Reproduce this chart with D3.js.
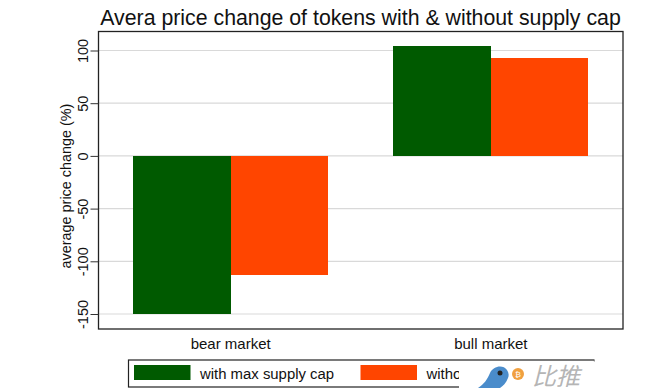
<!DOCTYPE html>
<html>
<head>
<meta charset="utf-8">
<script src="https://cdn.jsdelivr.net/npm/d3@7"></script>
<style>
  html, body { margin: 0; padding: 0; background: #fff; }
  svg { display: block; }
  text { font-family: "Liberation Sans", Arial, sans-serif; fill: #111; }
</style>
</head>
<body>
<div id="chart"></div>
<script>
const markets = ["bear market", "bull market"];
const seriesNames = ["with max supply cap", "without max supply cap"];
// second label is cut by the watermark in the original
const legendLabels = ["with max supply cap", "witho"];
const withCap = [-150, 104];
const withoutCap = [-113, 93];
const yTicks = [100, 50, 0, -50, -100, -150];

const colors = ["#005a00", "#ff4500"];

const margin = { top: 31.5, right: 44, bottom: 59, left: 98.5 };
const width = 667 - margin.left - margin.right;
const height = 388 - margin.top - margin.bottom;

const root = d3.select("#chart").append("svg")
    .attr("width", 667)
    .attr("height", 388);

const svg = root.append("g")
    .attr("transform", `translate(${margin.left},${margin.top})`);

// scales
const x = d3.scaleBand()
    .domain(markets)
    .range([0, width])
    .paddingInner(0.25)
    .paddingOuter(0.133);

const xSeries = d3.scaleBand()
    .domain(seriesNames)
    .range([0, x.bandwidth()]);

const y = d3.scaleLinear()
    .domain([-150, 100])
    .range([282.5, 19]);

// grid
svg.append("g")
    .selectAll("line")
    .data(yTicks)
    .enter()
    .append("line")
    .attr("x1", 0)
    .attr("x2", width)
    .attr("y1", d => y(d))
    .attr("y2", d => y(d))
    .style("stroke", "#d9d9d9")
    .style("stroke-width", 1.2);

// bars
const series = [withCap, withoutCap];
series.forEach((values, i) => {
    svg.append("g")
        .selectAll("rect")
        .data(values)
        .enter()
        .append("rect")
        .attr("x", (d, j) => x(markets[j]) + xSeries(seriesNames[i]))
        .attr("y", d => Math.min(y(d), y(0)))
        .attr("width", xSeries.bandwidth())
        .attr("height", d => Math.abs(y(d) - y(0)))
        .attr("shape-rendering", "crispEdges")
        .style("fill", colors[i]);
});

// frame
svg.append("rect")
    .attr("width", width)
    .attr("height", height)
    .style("fill", "none")
    .style("stroke", "#222")
    .style("stroke-width", 1.3);

// y axis
const yAxis = svg.append("g")
    .call(d3.axisLeft(y).tickValues(yTicks).tickSize(8).tickFormat(d => String(d)));
yAxis.select(".domain").remove();
yAxis.selectAll("line").style("stroke", "#333");
yAxis.selectAll("text")
    .style("font-size", "14.5px")
    .style("font-family", "Liberation Sans")
    .style("text-anchor", "middle")
    .attr("x", 0)
    .attr("dy", 0)
    .attr("transform", "translate(-10.5,0)rotate(-90)");

// x axis, no tick marks in the original
const xAxis = svg.append("g")
    .attr("transform", `translate(0,${height})`)
    .call(d3.axisBottom(x).tickSize(0));
xAxis.select(".domain").remove();
xAxis.selectAll("text")
    .style("font-size", "15px")
    .style("font-family", "Liberation Sans")
    .attr("y", 9)
    .attr("dy", "0.71em");

// title
root.append("text")
    .attr("x", 360.5)
    .attr("y", 25)
    .attr("text-anchor", "middle")
    .style("font-size", "21.3px")
    .text("Avera price change of tokens with & without supply cap");

// y axis label
root.append("text")
    .attr("transform", "translate(71,186)rotate(-90)")
    .attr("text-anchor", "middle")
    .style("font-size", "14.4px")
    .text("average price change (%)");

// legend
const legend = root.append("g").attr("transform", "translate(128.5,360)");
legend.append("rect")
    .attr("width", 466)
    .attr("height", 27)
    .style("fill", "#fff")
    .style("stroke", "#222")
    .style("stroke-width", 1.2);

const keyX = [5.5, 232];
legendLabels.forEach((name, i) => {
    legend.append("rect")
        .attr("x", keyX[i])
        .attr("y", 5)
        .attr("width", 56.5)
        .attr("height", 15)
        .style("fill", colors[i]);
    legend.append("text")
        .attr("x", keyX[i] + 66)
        .attr("y", 19)
        .style("font-size", "14.9px")
        .text(name);
});

// watermark covers the right end of the legend
root.append("rect")
    .attr("x", 459)
    .attr("y", 361.5)
    .attr("width", 208)
    .attr("height", 27)
    .style("fill", "#fff");
root.append("rect")
    .attr("x", 594.5)
    .attr("y", 355)
    .attr("width", 10)
    .attr("height", 10)
    .style("fill", "#fff");

const mark = root.append("g");
mark.append("path")
    .attr("d", "M478,388 C484,384 487,380 490,373 C493,366 503,364 507,370 C509,373 509,376 508,378 C506,383 503,386 500,388 Z")
    .style("fill", "#4a8ccb");
mark.append("circle").attr("cx", 500).attr("cy", 373).attr("r", 2.5).style("fill", "#222");
mark.append("circle").attr("cx", 518).attr("cy", 374).attr("r", 6).style("fill", "#f0a040");
mark.append("text")
    .attr("x", 518).attr("y", 377)
    .attr("text-anchor", "middle")
    .style("font-size", "8px")
    .style("fill", "#fff")
    .text("₿");
mark.append("text")
    .attr("x", 532)
    .attr("y", 384.5)
    .style("font-family", "Noto Sans CJK SC")
    .style("font-size", "24px")
    .style("font-style", "italic")
    .style("fill", "#b5b5b5")
    .text("比推");
</script>
</body>
</html>
